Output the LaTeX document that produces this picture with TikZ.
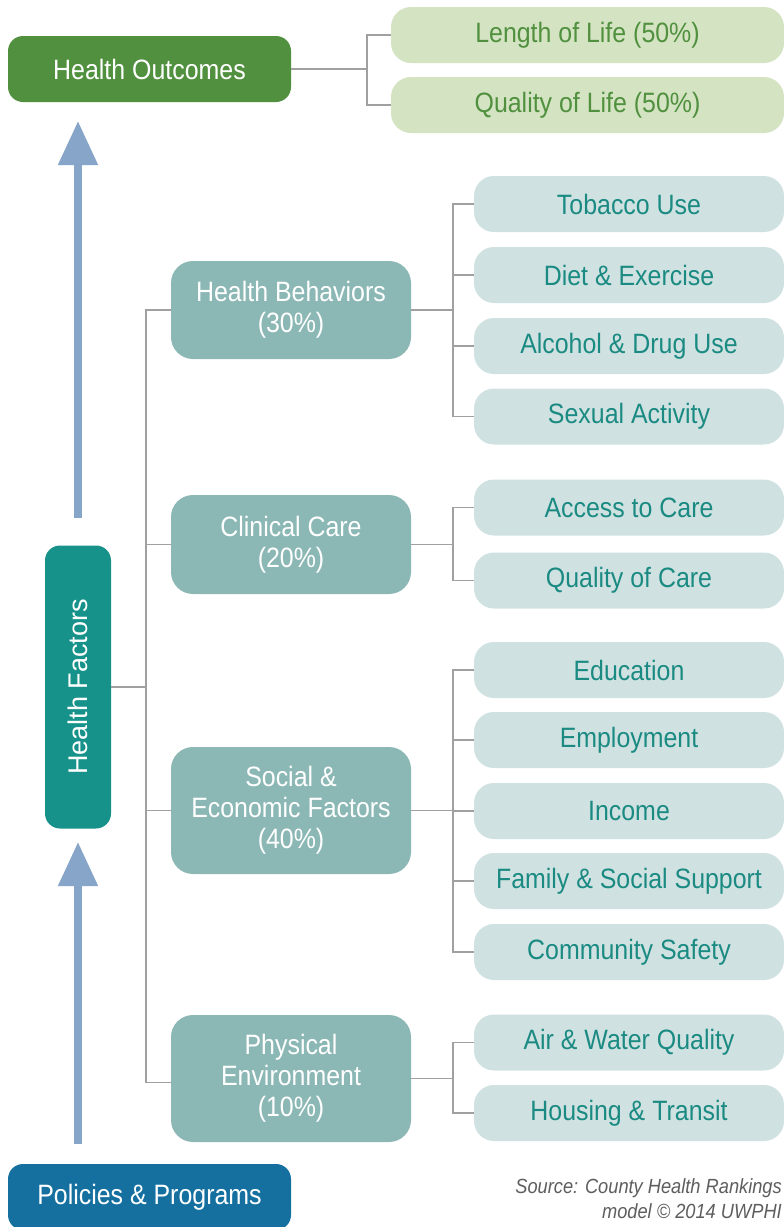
\documentclass[tikz,border=0pt]{standalone}
\usepackage{fontspec}
\setmainfont{Liberation Sans}
\newfontfamily\cond[FakeStretch=0.89]{Liberation Sans}
\usetikzlibrary{arrows.meta,calc}
\definecolor{outgreen}{HTML}{50903E}
\definecolor{lightgreen}{HTML}{D4E4C3}
\definecolor{hfteal}{HTML}{17928A}
\definecolor{midteal}{HTML}{8BB8B5}
\definecolor{leafbg}{HTML}{CFE2E1}
\definecolor{leaftext}{HTML}{1A8A82}
\definecolor{polblue}{HTML}{1570A0}
\definecolor{arrowblue}{HTML}{86A5C8}
\definecolor{linegray}{HTML}{A0A0A0}
\definecolor{srcgray}{HTML}{5E5E5E}
\tikzset{
  topbox/.style={rounded corners=15pt, inner sep=0pt, minimum width=283pt, minimum height=66pt,
    text=white, font=\cond\fontsize{28}{31}\selectfont},
  outleaf/.style={fill=lightgreen, rounded corners=20pt, inner sep=0pt, minimum width=393pt,
    minimum height=56pt, text=outgreen, font=\cond\fontsize{28}{31}\selectfont},
  midbox/.style={fill=midteal, rounded corners=22pt, inner sep=0pt, minimum width=240pt,
    text=white, align=center, font=\cond\fontsize{28}{31}\selectfont},
  leaf/.style={fill=leafbg, rounded corners=20pt, inner sep=0pt, minimum width=310pt,
    minimum height=56pt, text=leaftext, font=\cond\fontsize{28}{31}\selectfont},
  conn/.style={draw=linegray, line width=1.5pt},
  bigarrow/.style={draw=arrowblue, line width=8pt, -{Triangle[width=38pt,length=44pt]}}
}
\begin{document}
\begin{tikzpicture}[x=1pt,y=-1pt]
\useasboundingbox (0,0) rectangle (784,1227);
\fill[white] (0,0) rectangle (784,1227);

% top level
\node[topbox, fill=outgreen] (ho) at (149.5,69) {Health Outcomes};
\node[outleaf] (len) at (587.5,35) {Length of Life (50\%)};
\node[outleaf] (qol) at (587.5,105) {Quality of Life (50\%)};
\coordinate (ox) at (367,0);
\draw[conn] (ho.east) -- (ho.east -| ox);
\draw[conn] (len.west) -- (len.west -| ox) -- (qol.west -| ox) -- (qol.west);

% health factors
\node[rounded corners=15pt, fill=hfteal, minimum width=66pt, minimum height=283pt, inner sep=0pt]
  (hf) at (78,687) {};
\node[rotate=90, text=white, font=\fontsize{27}{30}\selectfont] (hft) at (hf.center) {Health Factors};

\node[topbox, fill=polblue, minimum height=66pt] (pp) at (149.5,1197) {Policies \& Programs};

% arrows
\coordinate (a1s) at (78,518);
\coordinate (a1e) at (78,121);
\coordinate (a2s) at (78,1144);
\coordinate (a2e) at (78,842);
\draw[bigarrow] (a1s) -- (a1e);
\draw[bigarrow] (a2s) -- (a2e);

% mid boxes
\node[midbox, minimum height=98pt] (hb) at (291,310) {Health Behaviors\\(30\%)};
\node[midbox, minimum height=99pt] (cc) at (291,544.5) {Clinical Care\\(20\%)};
\node[midbox, minimum height=127pt] (se) at (291,810.5) {Social \&\\Economic Factors\\(40\%)};
\node[midbox, minimum height=127pt] (pe) at (291,1078.5) {Physical\\Environment\\(10\%)};

\coordinate (tr) at (146,0);
\draw[conn] (hf.east) -- (hf.east -| tr);
\draw[conn] (hb.west) -- (hb.west -| tr) -- ($(pe.west -| tr)+(0,4)$) -- ($(pe.west)+(0,4)$);
\draw[conn] (cc.west) -- (cc.west -| tr);
\draw[conn] (se.west) -- (se.west -| tr);

% leaves
\node[leaf] (tob) at (629,204) {Tobacco Use};
\node[leaf] (die) at (629,275) {Diet \& Exercise};
\node[leaf] (alc) at (629,346) {Alcohol \& Drug Use};
\node[leaf] (sex) at (629,416.5) {Sexual Activity};
\node[leaf] (acc) at (629,507.5) {Access to Care};
\node[leaf] (qoc) at (629,580.5) {Quality of Care};
\node[leaf] (edu) at (629,670) {Education};
\node[leaf] (emp) at (629,740) {Employment};
\node[leaf] (inc) at (629,811) {Income};
\node[leaf] (fam) at (629,881) {Family \& Social Support};
\node[leaf] (com) at (629,952) {Community Safety};
\node[leaf] (air) at (629,1042.5) {Air \& Water Quality};
\node[leaf] (hou) at (629,1113) {Housing \& Transit};

\coordinate (lx) at (453,0);
\draw[conn] (hb.east) -- (hb.east -| lx);
\draw[conn] (tob.west) -- (tob.west -| lx) -- (sex.west -| lx) -- (sex.west);
\draw[conn] (die.west) -- (die.west -| lx);
\draw[conn] (alc.west) -- (alc.west -| lx);

\draw[conn] (cc.east) -- (cc.east -| lx);
\draw[conn] (acc.west) -- (acc.west -| lx) -- (qoc.west -| lx) -- (qoc.west);

\draw[conn] (se.east) -- (se.east -| lx);
\draw[conn] (edu.west) -- (edu.west -| lx) -- (com.west -| lx) -- (com.west);
\draw[conn] (emp.west) -- (emp.west -| lx);
\draw[conn] (inc.west) -- (inc.west -| lx);
\draw[conn] (fam.west) -- (fam.west -| lx);

\draw[conn] (pe.east) -- (pe.east -| lx);
\draw[conn] (air.west) -- (air.west -| lx) -- (hou.west -| lx) -- (hou.west);

% source
\node[anchor=north east, align=right, text=srcgray, inner sep=0pt,
  font=\cond\itshape\fontsize{20.5}{25.5}\selectfont] (src) at (782,1178)
  {Source: County Health Rankings\\model \textcopyright{} 2014 UWPHI};
\end{tikzpicture}
\end{document}
